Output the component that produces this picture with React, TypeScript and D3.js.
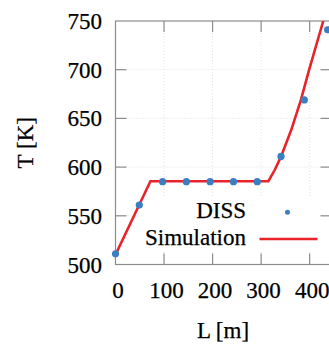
import * as React from 'react';
import * as d3 from 'd3';

// DISS measurements
const dissL = [0, 49, 97, 146, 195, 243, 292, 341, 389, 437];
const dissT = [511, 561, 585, 585, 585, 585, 585, 611, 669, 741];

// Simulation curve
const simL = [0, 72, 315, 328, 341, 362, 382, 399, 428];
const simT = [510, 585.5, 585.5, 597, 610.7, 638, 669, 700, 750];

const xTicks = [0, 100, 200, 300, 400];
const yTicks = [500, 550, 600, 650, 700, 750];

const legendItems = ['DISS', 'Simulation'];

const W = 329;
const H = 345;

const left = 115.5;
const right = 331.5;
const top = 21;
const bottom = 264.5;
const tickLen = 11;
const axisColor = '#8c8c8c';
const blue = '#3a7fbf';
const red = '#e8232a';

const FONT = 'Liberation Serif';
const txtStyle: React.CSSProperties = { fontFamily: `"${FONT}"`, fontSize: '23px' };

const x = d3.scaleLinear().domain([0, 445]).range([left, right]);
const y = d3.scaleLinear().domain([500, 750]).range([bottom, top]);

const Label = (p: { x: number; y: number; anchor: string; children: React.ReactNode; transform?: string }) => (
  <text
    x={p.x}
    y={p.y}
    transform={p.transform}
    textAnchor={p.anchor as any}
    fontFamily={FONT}
    fontSize={23}
    fill="#000"
    stroke="#000"
    strokeWidth={0.25}
    style={txtStyle}
  >
    {p.children}
  </text>
);

const App: React.FC = () => {
  const simData = simL.map((l, i) => [l, simT[i]] as [number, number]);
  const line = d3.line<[number, number]>().x(d => x(d[0])).y(d => y(d[1]));

  return (
    <svg width={W} height={H} style={{ position: 'fixed', left: 0, top: 0, display: 'block' }}>
      <rect width={W} height={H} fill="white" />

      {/* grid */}
      <g stroke="#d9d9d9" strokeWidth={0.8} strokeDasharray="1,2">
        {xTicks.slice(1).map(t => (
          <line key={'gv' + t} x1={x(t)} x2={x(t)} y1={top} y2={bottom} />
        ))}
        {yTicks.slice(1, -1).map(t => (
          <line key={'gh' + t} x1={left} x2={right} y1={y(t)} y2={y(t)} />
        ))}
      </g>

      {/* frame with inward ticks */}
      <g stroke={axisColor} strokeWidth={1.2} fill="none">
        <rect x={left} y={top} width={right - left} height={bottom - top} />
        {xTicks.slice(1).map(t => (
          <g key={'tx' + t}>
            <line x1={x(t)} x2={x(t)} y1={bottom} y2={bottom - tickLen} />
            <line x1={x(t)} x2={x(t)} y1={top} y2={top + tickLen} />
          </g>
        ))}
        {yTicks.slice(1, -1).map(t => (
          <g key={'ty' + t}>
            <line x1={left} x2={left + tickLen} y1={y(t)} y2={y(t)} />
            <line x1={right} x2={right - tickLen} y1={y(t)} y2={y(t)} />
          </g>
        ))}
      </g>

      {/* tick labels */}
      {xTicks.map(t => (
        <Label key={'lx' + t} x={x(t) + 2.5} y={298} anchor="middle">{t}</Label>
      ))}
      {yTicks.map(t => (
        <Label key={'ly' + t} x={102} y={y(t) + 8} anchor="end">{t}</Label>
      ))}
      <Label x={223} y={338} anchor="middle">L [m]</Label>
      <Label x={0} y={0} anchor="middle" transform={`translate(33,${(top + bottom) / 2}) rotate(-90)`}>T [K]</Label>

      <clipPath id="plotclip">
        <rect x={left} y={top - 1} width={right - left} height={bottom - top + 1} />
      </clipPath>

      <path
        d={line(simData) || ''}
        clipPath="url(#plotclip)"
        fill="none"
        stroke={red}
        strokeWidth={2.6}
      />

      {dissL.map((l, i) => (
        <circle key={'p' + i} cx={x(l)} cy={y(dissT[i])} r={3.6} fill={blue} />
      ))}

      {/* legend */}
      <rect x={146} y={197} width={174} height={55} fill="white" />
      {legendItems.map((d, i) => (
        <Label key={d} x={246} y={217.5 + i * 27} anchor="end">{d}</Label>
      ))}
      <circle cx={287.5} cy={212.3} r={2.5} fill={blue} />
      <line x1={259.5} x2={317.5} y1={239} y2={239} stroke={red} strokeWidth={2.6} />
    </svg>
  );
};

export default App;
